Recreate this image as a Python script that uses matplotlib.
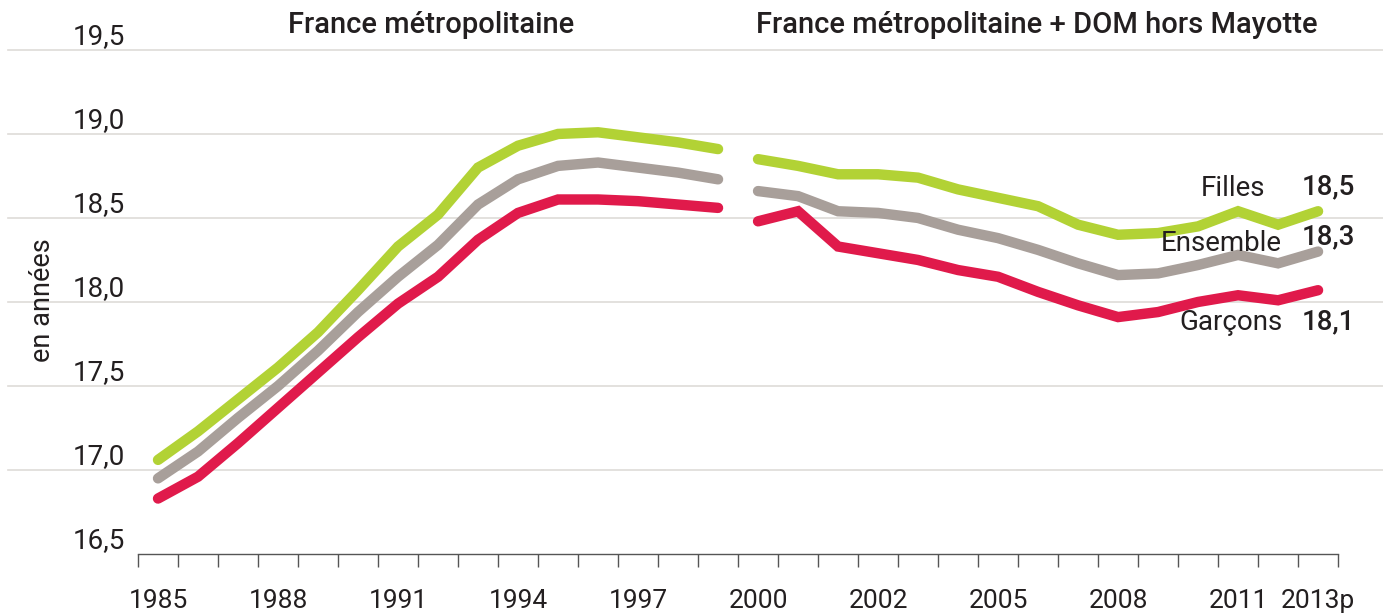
import matplotlib.pyplot as plt
import numpy as np

# categories (axe des x)
annees_metro = [str(a) for a in range(1985, 2000)]
annees_dom = ["2000", "2000"] + [str(a) for a in range(2001, 2013)] + ["2013p"]
annees = annees_metro + annees_dom
labels_affiches = ["1985", "1988", "1991", "1994", "1997", "2000", "2002", "2005", "2008", "2011", "2013p"]

# France metropolitaine
filles_metro = [17.06, 17.23, 17.42, 17.61, 17.82, 18.07, 18.33, 18.52, 18.80, 18.93, 19.00, 19.01, 18.98, 18.95, 18.91]
ensemble_metro = [16.95, 17.11, 17.31, 17.50, 17.71, 17.94, 18.15, 18.34, 18.58, 18.73, 18.81, 18.83, 18.80, 18.77, 18.73]
garcons_metro = [16.83, 16.96, 17.16, 17.37, 17.58, 17.79, 17.99, 18.15, 18.37, 18.53, 18.61, 18.61, 18.60, 18.58, 18.56]

# France metropolitaine + DOM hors Mayotte
filles_dom = [18.85, 18.81, 18.76, 18.76, 18.74, 18.67, 18.62, 18.57, 18.46, 18.40, 18.41, 18.45, 18.54, 18.46, 18.54]
ensemble_dom = [18.66, 18.63, 18.54, 18.53, 18.50, 18.43, 18.38, 18.31, 18.23, 18.16, 18.17, 18.22, 18.28, 18.23, 18.30]
garcons_dom = [18.48, 18.54, 18.33, 18.29, 18.25, 18.19, 18.15, 18.06, 17.98, 17.91, 17.94, 18.00, 18.04, 18.01, 18.07]

series = ["Filles", "Ensemble", "Garçons"]
dernieres = ["18,5", "18,3", "18,1"]
yticks = [16.5, 17.0, 17.5, 18.0, 18.5, 19.0, 19.5]

vert = "#b2d235"
gris = "#a89f9a"
rouge = "#e01a4b"
texte = "#231f20"

plt.rcParams['font.family'] = ['Roboto', 'DejaVu Sans']

fig = plt.figure(figsize=(13.83, 6.13), dpi=100)
ax = fig.add_axes([0.0998, 0.0963, 0.8677, 0.8222])

x_metro = np.arange(len(annees_metro))
x_dom = np.arange(len(annees_metro), len(annees))

# grid lines, wider than the axes
for v in yticks[1:]:
    ax.plot([-0.108, 1.0375], [v, v], transform=ax.get_yaxis_transform(),
            color="#dedbd8", lw=1.2, clip_on=False, zorder=0)

lw = 7.5
for xs, data, c in [(x_metro, filles_metro, vert), (x_metro, ensemble_metro, gris),
                    (x_metro, garcons_metro, rouge), (x_dom, filles_dom, vert),
                    (x_dom, ensemble_dom, gris), (x_dom, garcons_dom, rouge)]:
    ax.plot(xs, data, color=c, lw=lw, solid_capstyle='round', solid_joinstyle='miter', zorder=3)

ax.set_xlim(-0.5, len(annees) - 0.5)
ax.set_ylim(16.5, 19.5)

for s in ["top", "right", "left"]:
    ax.spines[s].set_visible(False)
ax.spines["bottom"].set_color("#555555")
ax.spines["bottom"].set_linewidth(1.0)

# ticks between categories, labels on categories
idx = [annees.index(l) for l in labels_affiches]
ax.set_xticks(idx)
ax.set_xticklabels(labels_affiches, fontsize=19, fontweight='normal', color=texte)
ax.set_xticks(np.arange(len(annees) + 1) - 0.5, minor=True)
ax.tick_params(axis='x', which='major', length=0, pad=25)
ax.tick_params(axis='x', which='minor', length=9, color="#555555", width=1.0)
ax.set_yticks([])

# y labels above the grid lines
for v in yticks:
    ax.text(-0.011, v, f"{v:.1f}".replace(".", ","), transform=ax.get_yaxis_transform(),
            ha='right', va='bottom', fontsize=20, fontweight='normal', color=texte)

fig.text(0.031, 0.51, "en années", rotation=90, ha='center', va='center',
         fontsize=19.5, fontweight='normal', color=texte)

ax.text(6.825, 19.649, "France métropolitaine", ha='center', va='center',
        fontsize=21, fontweight='medium', color=texte, clip_on=False)
ax.text(21.975, 19.649, "France métropolitaine + DOM hors Mayotte", ha='center', va='center',
        fontsize=21, fontweight='medium', color=texte, clip_on=False)

# end labels
pos_nom = [18.675, 18.35, 17.875]
pos_val = [18.685, 18.39, 17.88]
x_nom = [27.675, 28.1, 28.12]
for nom, val, yn, yv, xn in zip(series, dernieres, pos_nom, pos_val, x_nom):
    ax.text(xn, yn, nom, ha='right', va='center', fontsize=20, fontweight='normal', color=texte, zorder=4)
    ax.text(28.6, yv, val, ha='left', va='center', fontsize=20, fontweight='medium', color=texte,
            clip_on=False, zorder=4)

fig.savefig("out.png", dpi=100)
